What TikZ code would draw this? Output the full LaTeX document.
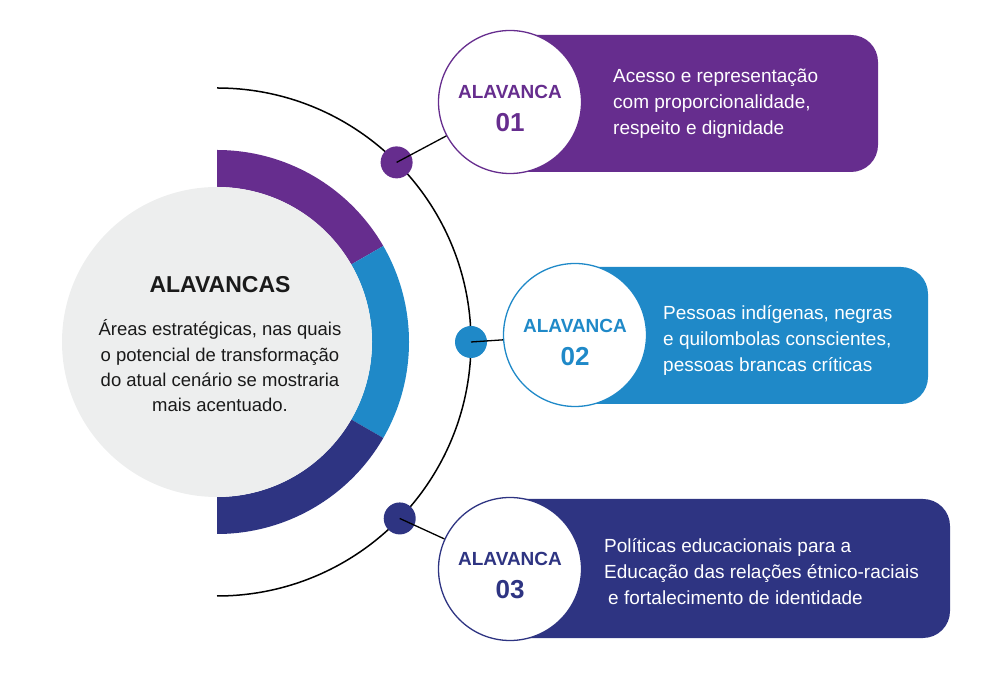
\documentclass[tikz,border=0pt]{standalone}
\usepackage{fontspec}
\setmainfont{Liberation Sans}
\definecolor{lvA}{HTML}{662D8E}
\definecolor{lvB}{HTML}{1F89C8}
\definecolor{lvC}{HTML}{2E3482}
\definecolor{lvgrey}{HTML}{EDEEEE}
\definecolor{lvink}{HTML}{1A1A1A}
\begin{document}
\begin{tikzpicture}[x=1pt,y=1pt,
        lever/.style={circle,fill=white,line width=1.3pt,minimum size=143pt,inner sep=0pt},%white disc of each lever
        levtxt/.style={align=center,inner sep=0pt,font=\fontsize{19}{20}\selectfont\bfseries},
        boxtxt/.style={anchor=west,align=left,inner sep=0pt,text=white,font=\fontsize{19}{26}\selectfont},
        dot/.style={circle,minimum size=32pt,inner sep=0pt},
        link/.style={line width=1.3pt,black}
                ]
\useasboundingbox (0,0) rectangle (1000,674);
\coordinate (C) at (217,332);
% outer thin arc
\draw[line width=1.5pt] ([shift={(90:254pt)}]C) arc[start angle=90,end angle=-90,radius=254pt];
% coloured ring, three sectors
\foreach \a/\b/\c in {90/30/lvA,30/-30/lvB,-30/-90/lvC}
  \fill[\c] ([shift={(\a:192pt)}]C) arc[start angle=\a,end angle=\b,radius=192pt]
            -- ([shift={(\b:155pt)}]C) arc[start angle=\b,end angle=\a,radius=155pt] -- cycle;
\node[circle,fill=lvgrey,minimum size=310pt,inner sep=0pt] (core) at (C) {};
\node[font=\fontsize{23}{28}\selectfont\bfseries,text=lvink,inner sep=0pt] (title) at (220,389) {ALAVANCAS};
\node[align=center,text=lvink,inner sep=0pt,font=\fontsize{18.5}{25.3}\selectfont] (body) at (220,308)
  {Áreas estratégicas, nas quais\\o potencial de transformação\\do atual cenário se mostraria\\mais acentuado.};
% dots on the arc
\node[dot,fill=lvA] (d1) at ([shift={(45:254pt)}]C) {};
\node[dot,fill=lvB] (d2) at ([shift={(0:254pt)}]C) {};
\node[dot,fill=lvC] (d3) at ([shift={(-44:254pt)}]C) {};
% boxes
\fill[lvA,rounded corners=27pt] (490,502) rectangle (878,639);
\fill[lvB,rounded corners=27pt] (555,270) rectangle (928,407);
\fill[lvC,rounded corners=27pt] (490,36) rectangle (950,175);
% levers
\node[lever,draw=lvA] (a1) at (510,572) {};
\node[lever,draw=lvB] (a2) at (575,339) {};
\node[lever,draw=lvC] (a3) at (510,105) {};
\node[levtxt,text=lvA] (n1) at ([yshift=-7pt]a1.center) {ALAVANCA\\[13pt]{\fontsize{26}{26}\selectfont 01}};
\node[levtxt,text=lvB] (n2) at ([yshift=-7pt]a2.center) {ALAVANCA\\[13pt]{\fontsize{26}{26}\selectfont 02}};
\node[levtxt,text=lvC] (n3) at ([yshift=-7pt]a3.center) {ALAVANCA\\[13pt]{\fontsize{26}{26}\selectfont 03}};
\node[boxtxt] (t1) at (613,570) {Acesso e representação\\com proporcionalidade,\\respeito e dignidade};
\node[boxtxt] (t2) at (663,334) {Pessoas indígenas, negras\\e quilombolas conscientes,\\pessoas brancas críticas};
\node[boxtxt] (t3) at (604,102) {Políticas educacionais para a\\Educação das relações étnico-raciais\\\hspace*{4pt}e fortalecimento de identidade};
% connectors
\draw[link] (d1.center) -- (a1);
\draw[link] (d2.center) -- (a2);
\draw[link] (d3.center) -- (a3);
\end{tikzpicture}
\end{document}
